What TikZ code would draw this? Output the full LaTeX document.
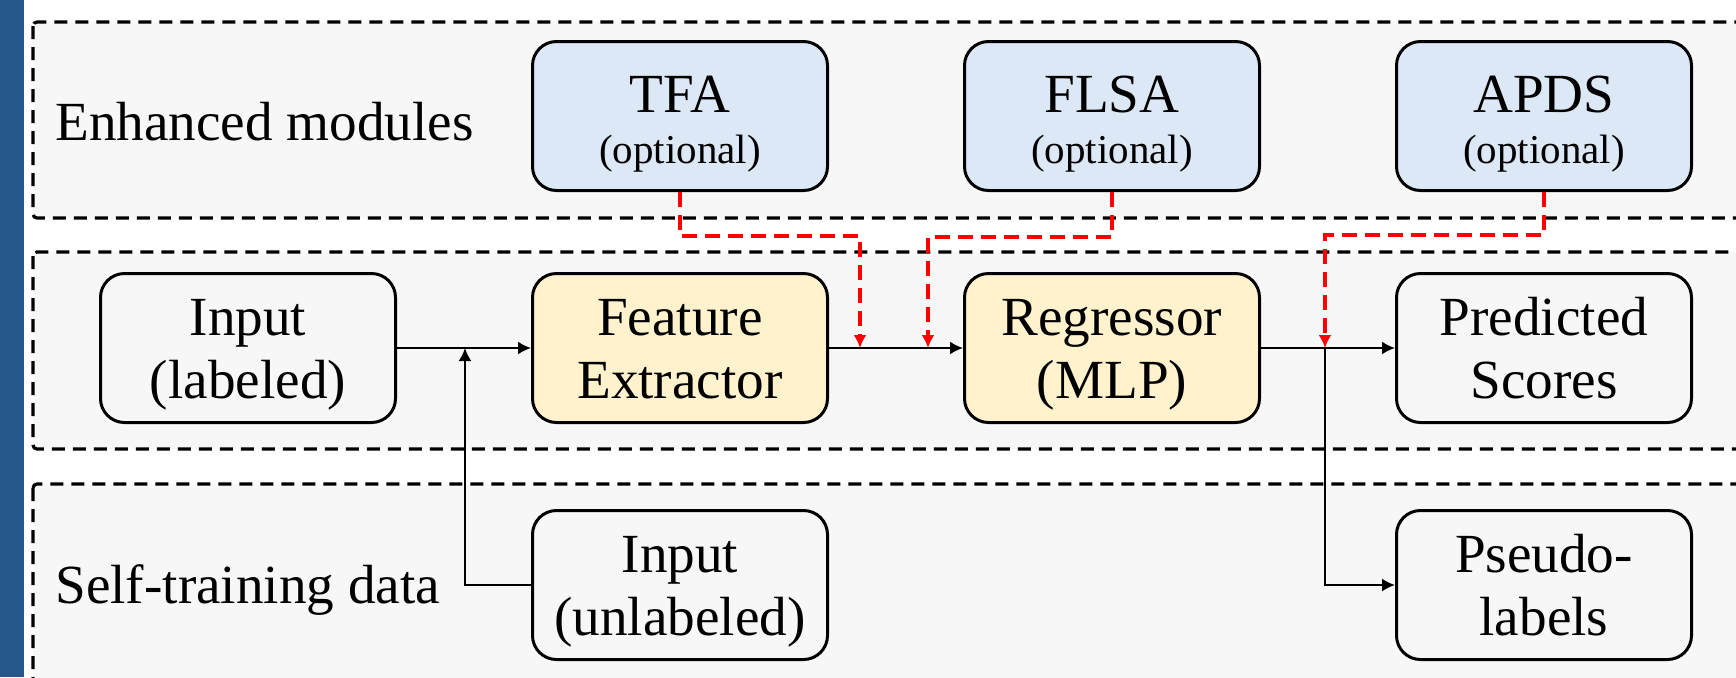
\documentclass[tikz,border=0pt]{standalone}
\usepackage{fontspec}
\setmainfont{Liberation Serif}
\usetikzlibrary{arrows.meta}
\definecolor{barblue}{HTML}{25578A}
\definecolor{modblue}{HTML}{DCE8F5}
\definecolor{coreyellow}{HTML}{FFF2CC}
\definecolor{areagray}{HTML}{F7F7F7}
\definecolor{linkred}{HTML}{FF0000}
\newcommand{\optnote}[1]{{\fontsize{20.5}{24}\selectfont #1}}
\newcommand{\upstrut}[1]{\rule{0pt}{#1}}
\newcommand{\downstrut}[1]{\rule[-#1]{0pt}{#1}}

\begin{document}
\begin{tikzpicture}[x=0.5pt, y=-0.5pt,
        >={Latex[length=6.5pt,width=6.5pt]},   % arrow tips
        font=\fontsize{27.6}{31.5}\selectfont,
        area/.style={draw, dash pattern=on 6.5pt off 4pt, line width=1.6pt, fill=areagray, rounded corners=2pt},
        box/.style={draw, line width=1.5pt, rounded corners=12pt, minimum width=147.5pt, minimum height=74.5pt, align=center, fill=areagray, inner sep=2pt},
        module/.style={box, fill=modblue},
        core/.style={box, fill=coreyellow},
        flow/.style={->, line width=1pt},
        hint/.style={->, linkred, line width=1.7pt, dash pattern=on 7.5pt off 4pt}]
        % picture frame
        \useasboundingbox (0,0) rectangle (1736,677);
        \clip (0,0) rectangle (1736,677);
        \fill[barblue] (0,0) rectangle (24,677);
        % dashed areas
        \draw[area] (33,22) rectangle (1770,218);
        \draw[area] (33,252) rectangle (1770,449);
        \draw[area] (33,484) rectangle (1770,720);
        % area labels
        \node[anchor=base west, inner sep=0pt] (lblmod) at (55,140) {Enhanced modules};
        \node[anchor=base west, inner sep=0pt] (lblself) at (55,603) {Self-training data};
        % modules
        \node[module] (tfa) at (680,116) {\upstrut{27.5pt}TFA\\[-6pt]\optnote{(optional)}\downstrut{6pt}};
        \node[module] (flsa) at (1112,116) {\upstrut{27.5pt}FLSA\\[-6pt]\optnote{(optional)}\downstrut{6pt}};
        \node[module] (apds) at (1544,116) {\upstrut{27.5pt}APDS\\[-6pt]\optnote{(optional)}\downstrut{6pt}};
        % main pipeline
        \node[box] (inl) at (248,348) {\upstrut{25.5pt}Input\\(labeled)\downstrut{7pt}};
        \node[core] (fe) at (680,348) {\upstrut{25.5pt}Feature\\Extractor\downstrut{7pt}};
        \node[core] (reg) at (1112,348) {\upstrut{25.5pt}Regressor\\(MLP)\downstrut{7pt}};
        \node[box] (pred) at (1544,348) {\upstrut{25.5pt}Predicted\\Scores\downstrut{7pt}};
        % self-training
        \node[box] (inu) at (680,585) {\upstrut{25.5pt}Input\\(unlabeled)\downstrut{7pt}};
        \node[box] (pl) at (1544,585) {\upstrut{25.5pt}Pseudo-\\labels\downstrut{7pt}};
        % junctions
        \coordinate (jin) at (465,348);
        \coordinate (jout) at (1325,348);
        \coordinate (rtfa) at (860,348);
        \coordinate (rflsa) at (928,348);
        % connectors
        \draw[flow] (inl) -- (fe);
        \draw[flow] (fe) -- (reg);
        \draw[flow] (reg) -- (pred);
        \draw[flow] (inu.west) -| (jin);
        \draw[flow] (jout) |- (pl.west);
        \draw[hint] (tfa.south) -- ++(0,44) -| (rtfa);
        \draw[hint] (flsa.south) -- ++(0,45) -| (rflsa);
        \draw[hint] (apds.south) -- ++(0,43) -| (jout);
\end{tikzpicture}
\end{document}
